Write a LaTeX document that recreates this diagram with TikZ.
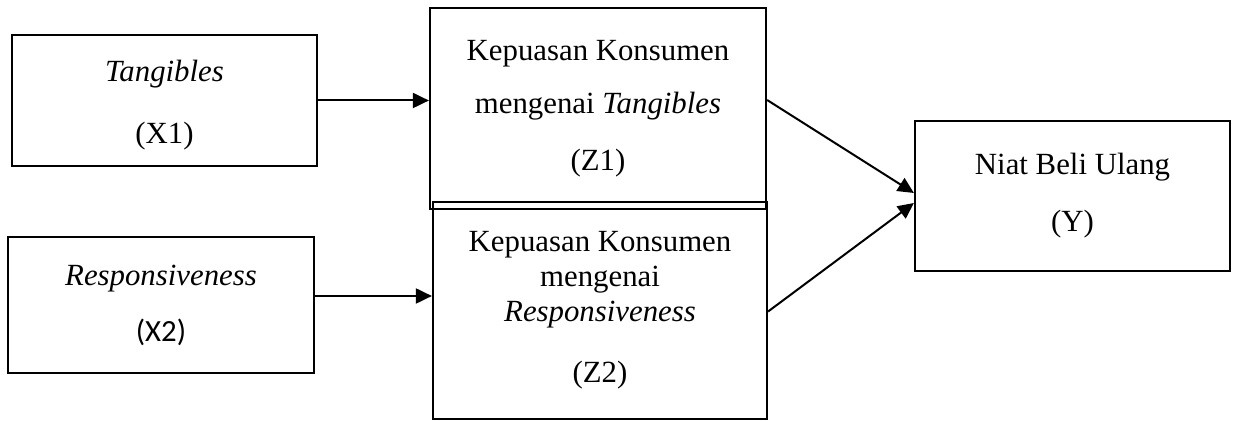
\documentclass[tikz,border=0pt]{standalone}
\usepackage{fontspec}
\setmainfont{Liberation Serif}
\newfontfamily\calibrifont{Carlito}
\usepackage{tikz}
\usetikzlibrary{arrows.meta}

\tikzset{
    varbox/.style={draw, rectangle, line width=1.1pt, align=center, inner sep=0pt,
        font=\fontsize{15.4}{17.5}\selectfont},
    arr/.style={-{Triangle[length=8pt,width=7.5pt]}, line width=1pt}
}

\begin{document}
\begin{tikzpicture}[x=0.5pt, y=-0.5pt]
\useasboundingbox (0,0) rectangle (1237,421);

% Independent variables
\node[varbox, minimum width=152.5pt, minimum height=65.5pt] (X1) at (164.5,100.5) {
    \rule{0pt}{15pt}\textit{Tangibles} \\[13.5pt]
    (X1)
};
\node[varbox, minimum width=153pt, minimum height=68pt] (X2) at (161,305) {
    \textit{Responsiveness} \\[10.5pt]
    {\calibrifont (X2)}
};

% Intervening variables
\node[varbox, minimum width=168pt, minimum height=100.5pt] (Z1) at (598,108.5) {
    Kepuasan Konsumen \\[9pt]
    mengenai \textit{Tangibles} \\[11pt]
    (Z1)
};
\node[varbox, minimum width=167pt, minimum height=108.5pt] (Z2) at (600,310.5) {
    Kepuasan Konsumen \\
    mengenai \\
    \textit{Responsiveness} \\[13pt]
    (Z2)
};

% Dependent variable
\node[varbox, minimum width=157.5pt, minimum height=75pt] (Y) at (1072.5,196) {
    Niat Beli Ulang \\[11pt]
    (Y)
};

\draw[arr] (X1.east) -- (X1.east -| Z1.west);
\draw[arr] ([yshift=4.5pt]X2.east) -- ([yshift=4.5pt]X2.east -| Z2.west);
\draw[arr] ([yshift=4.25pt]Z1.east) -- ([yshift=1.5pt]Y.west);
\draw[arr] ([yshift=-0.5pt]Z2.east) -- ([yshift=-3.5pt]Y.west);
\end{tikzpicture}
\end{document}
